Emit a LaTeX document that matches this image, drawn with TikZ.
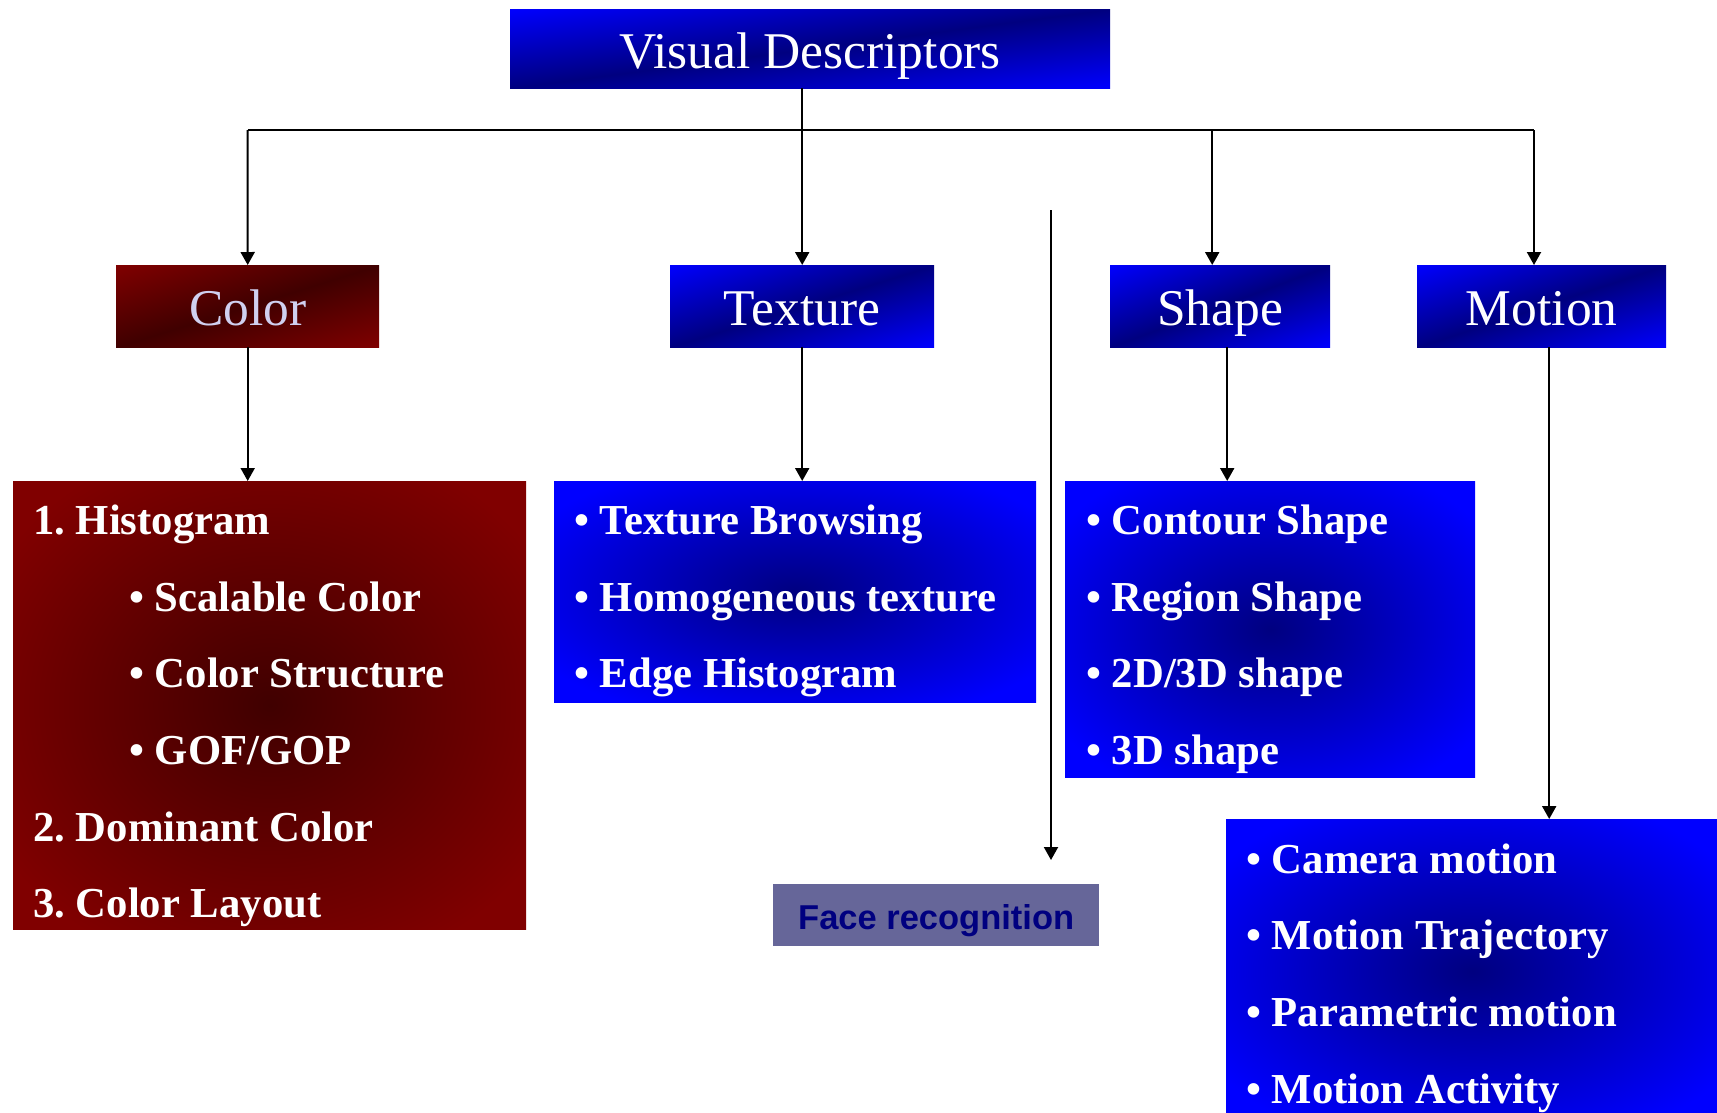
\documentclass[tikz,border=0pt]{standalone}
\usepackage{fontspec}
\setmainfont{Liberation Serif}
\newfontfamily\arialfont{Liberation Sans}
\usetikzlibrary{arrows.meta}
\definecolor{vblue}{RGB}{0,0,255}
\definecolor{vnavy}{RGB}{0,0,128}
\definecolor{vred}{RGB}{128,0,0}
\definecolor{vdkred}{RGB}{64,0,0}
\definecolor{vlav}{RGB}{208,208,240}
\definecolor{vface}{RGB}{102,102,153}
\pgfdeclareradialshading{bluerad}{\pgfpoint{0bp}{0bp}}{color(0bp)=(vnavy); color(31bp)=(vblue); color(50bp)=(vblue)}
\pgfdeclareradialshading{redrad}{\pgfpoint{0bp}{0bp}}{color(0bp)=(vdkred); color(31bp)=(vred); color(50bp)=(vred)}
\pgfdeclarehorizontalshading{bdiag}{120bp}{color(0bp)=(vblue); color(2bp)=(vblue); color(52bp)=(vnavy); color(102bp)=(vblue); color(104bp)=(vblue)}
\pgfdeclarehorizontalshading{rdiag}{120bp}{color(0bp)=(vred); color(2bp)=(vred); color(52bp)=(vdkred); color(102bp)=(vred); color(104bp)=(vred)}
\tikzset{
  hdr/.style={anchor=north west, inner sep=0pt, draw=none,
    font=\fontsize{51.5}{60}\selectfont, text=white},
  diag/.style n args={3}{path picture={%
    \pgflowlevelobj{\pgftransformcm{#2}{-#3}{#2}{#3}{\pgfpointanchor{path picture bounding box}{center}}}{\pgftransformreset\pgftext{\pgfuseshading{#1}}}}},
  listbox/.style={anchor=north west, inner sep=0pt, draw=none},
  item/.style={anchor=base west, inner sep=0pt, text=white,
    font=\fontsize{42.7}{50}\selectfont\bfseries},
  conn/.style={line width=2pt, black},
  arr/.style={conn, -{Triangle[width=14pt,length=13pt]}},
}
\begin{document}
\begin{tikzpicture}[x=1pt,y=-1pt]
\useasboundingbox[fill=white] (0,0) rectangle (1717,1112);

% header boxes
\node[hdr, diag={bdiag}{6.0}{0.79}, minimum width=600pt, text height=59pt, text depth=20pt] (vd) at (510,9) {Visual Descriptors};
\node[hdr, diag={rdiag}{2.63}{0.82}, minimum width=263pt, text height=60pt, text depth=22pt, text=vlav] (color) at (116,265) {Color};
\node[hdr, diag={bdiag}{2.64}{0.82}, minimum width=264pt, text height=60pt, text depth=22pt] (texture) at (670,265) {Texture};
\node[hdr, diag={bdiag}{2.2}{0.82}, minimum width=220pt, text height=60pt, text depth=22pt] (shape) at (1110,265) {Shape};
\node[hdr, diag={bdiag}{2.49}{0.82}, minimum width=249pt, text height=60pt, text depth=22pt] (motion) at (1417,265) {Motion};

% list boxes
\node[listbox, shading=redrad, minimum width=513pt, minimum height=448pt] (colorlist) at (13,481) {};
\node[listbox, shading=bluerad, minimum width=482pt, minimum height=221pt] (texturelist) at (554,481) {};
\node[listbox, shading=bluerad, minimum width=410pt, minimum height=296pt] (shapelist) at (1065,481) {};
\node[listbox, shading=bluerad, minimum width=492pt, minimum height=304pt] (motionlist) at (1226,819) {};

% face recognition
\node[anchor=north west, inner sep=0pt, fill=vface, minimum width=326pt,
  text height=45pt, text depth=17pt, text=vnavy,
  font=\arialfont\bfseries\fontsize{34.5}{40}\selectfont] (face) at (773,884) {Face recognition};

% list texts
\node[item] (c1) at (33,534) {1.\ Histogram};
\node[item] (c2) at (129,611) {• Scalable Color};
\node[item] (c3) at (129,687) {• Color Structure};
\node[item] (c4) at (129,764) {• GOF/GOP};
\node[item] (c5) at (33,841) {2.\ Dominant Color};
\node[item] (c6) at (33,917) {3.\ Color Layout};

\node[item] (t1) at (574,534) {• Texture Browsing};
\node[item] (t2) at (574,611) {• Homogeneous texture};
\node[item] (t3) at (574,687) {• Edge Histogram};

\node[item] (s1) at (1086,534) {• Contour Shape};
\node[item] (s2) at (1086,611) {• Region Shape};
\node[item] (s3) at (1086,687) {• 2D/3D shape};
\node[item] (s4) at (1086,764) {• 3D shape};

\node[item] (m1) at (1246,873) {• Camera motion};
\node[item] (m2) at (1246,949) {• Motion Trajectory};
\node[item] (m3) at (1246,1026) {• Parametric motion};
\node[item] (m4) at (1246,1103) {• Motion Activity};

% connectors
\coordinate (busL) at (247.5,130);
\coordinate (busR) at (1534,130);
\coordinate (shapeIn) at ([xshift=-8pt]shape.north);
\coordinate (shapeOut) at ([xshift=7pt]shape.south);
\coordinate (motionOut) at ([xshift=7.5pt]motion.south);
\draw[conn] (texture.north |- vd.south) -- (texture.north |- busL);
\draw[conn] (busL) -- (busR);
\draw[arr] (busL) -- (color.north);
\draw[arr] (texture.north |- busL) -- (texture.north);
\draw[arr] (shapeIn |- busL) -- (shapeIn);
\draw[arr] (busR) -- (busR |- motion.north);

\draw[arr] (color.south) -- (colorlist.north -| color.south);
\draw[arr] (texture.south) -- (texturelist.north -| texture.south);
\draw[arr] (shapeOut) -- (shapelist.north -| shapeOut);
\draw[arr] (motionOut) -- (motionlist.north -| motionOut);

\coordinate (vtop) at (1051,210);
\coordinate (vbot) at (1051,860);
\draw[arr] (vtop) -- (vbot);
\end{tikzpicture}
\end{document}
